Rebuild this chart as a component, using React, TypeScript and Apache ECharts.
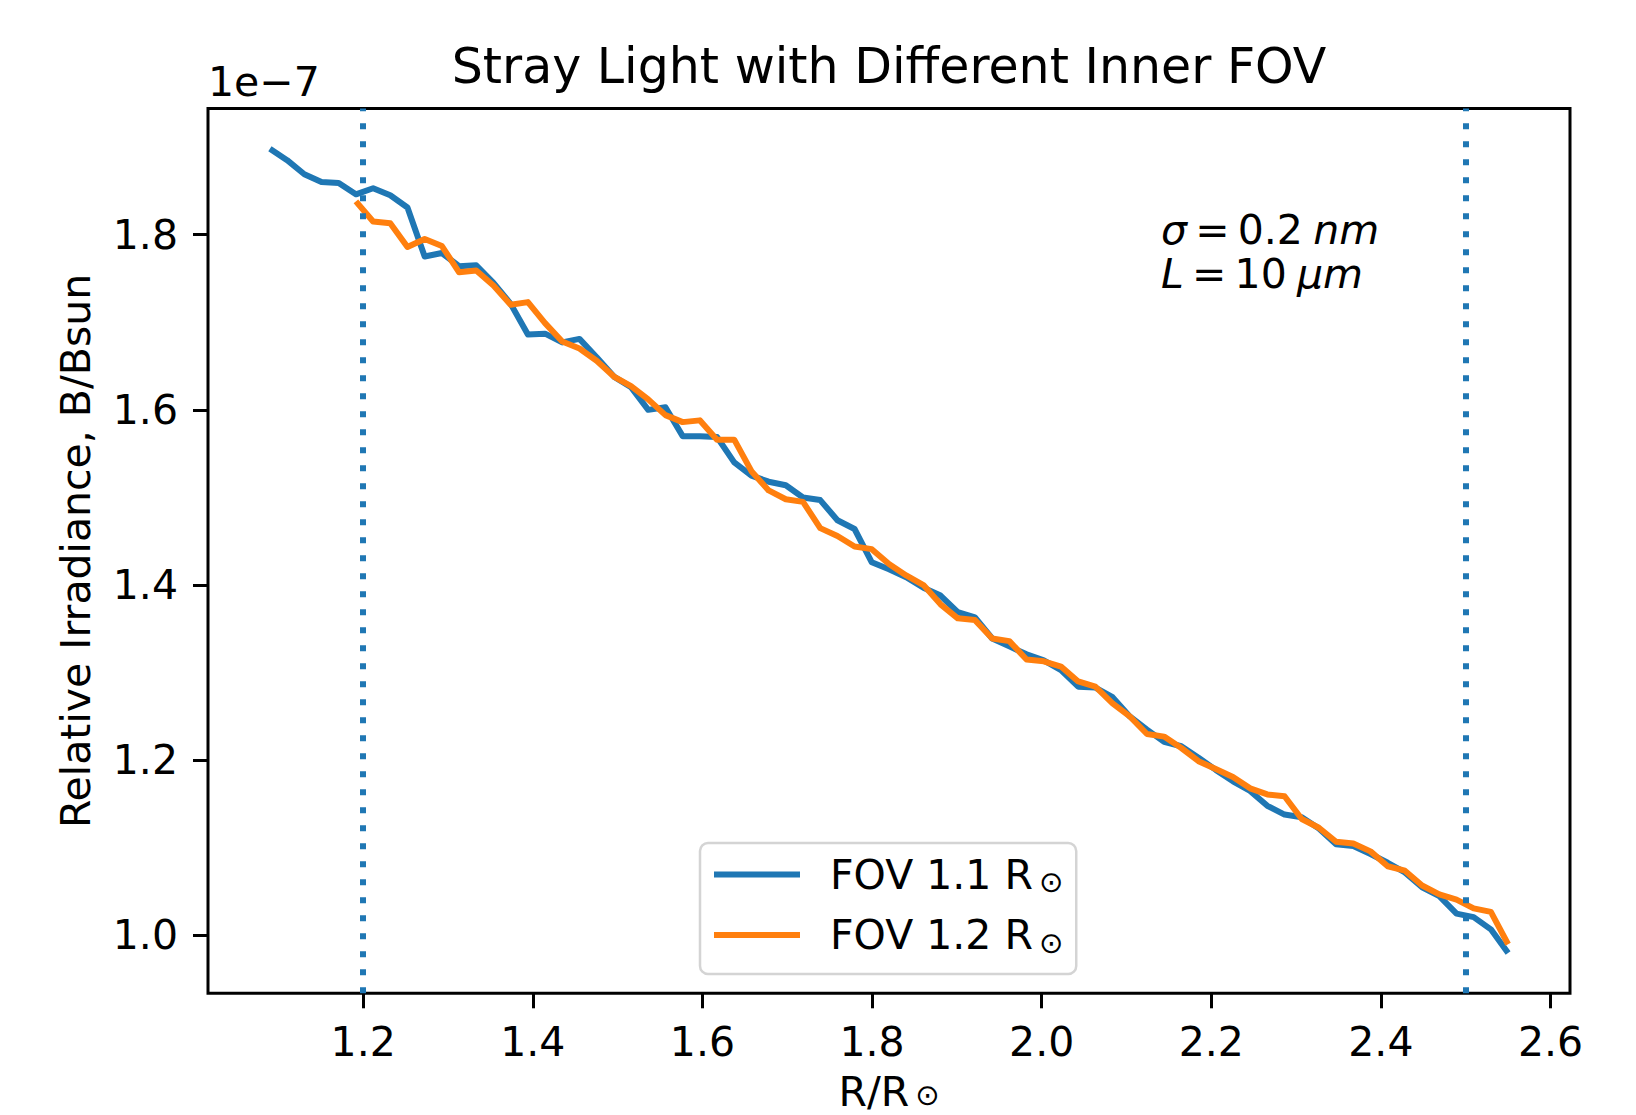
import React, { useEffect, useRef } from "react";
import * as echarts from "echarts";

// R/R_sun sample positions
const xValues = [
  1.09, 1.1103, 1.1306, 1.1508, 1.1711, 1.1914, 1.2117, 1.2319, 1.2522, 1.2725,
  1.2928, 1.3131, 1.3333, 1.3536, 1.3739, 1.3942, 1.4144, 1.4347, 1.455, 1.4753,
  1.4956, 1.5158, 1.5361, 1.5564, 1.5767, 1.5969, 1.6172, 1.6375, 1.6578, 1.6781,
  1.6983, 1.7186, 1.7389, 1.7592, 1.7794, 1.7997, 1.82, 1.8403, 1.8606, 1.8808,
  1.9011, 1.9214, 1.9417, 1.9619, 1.9822, 2.0025, 2.0228, 2.0431, 2.0633, 2.0836,
  2.1039, 2.1242, 2.1444, 2.1647, 2.185, 2.2053, 2.2256, 2.2458, 2.2661, 2.2864,
  2.3067, 2.3269, 2.3472, 2.3675, 2.3878, 2.4081, 2.4283, 2.4486, 2.4689, 2.4892,
  2.5094, 2.5297, 2.55,
];

// Relative irradiance (x 1e-7), FOV 1.1 R_sun
const fov11 = [
  1.898, 1.885, 1.869, 1.86, 1.859, 1.846, 1.853, 1.845, 1.831, 1.775,
  1.779, 1.764, 1.765, 1.745, 1.721, 1.686, 1.687, 1.677, 1.681, 1.66,
  1.638, 1.626, 1.6, 1.603, 1.57, 1.57, 1.569, 1.54, 1.525, 1.518,
  1.514, 1.5, 1.497, 1.474, 1.464, 1.426, 1.418, 1.409, 1.397, 1.388,
  1.369, 1.363, 1.339, 1.33, 1.321, 1.314, 1.303, 1.284, 1.283, 1.272,
  1.25, 1.235, 1.221, 1.216, 1.203, 1.189, 1.176, 1.165, 1.148, 1.138,
  1.135, 1.122, 1.104, 1.102, 1.093, 1.083, 1.072, 1.055, 1.045, 1.025,
  1.021, 1.007, 0.98,
];

// Relative irradiance (x 1e-7), FOV 1.2 R_sun (no data inside 1.19)
const fov12 = [
  null, null, null, null, null, 1.838, 1.815, 1.813, 1.786, 1.795,
  1.787, 1.757, 1.759, 1.742, 1.72, 1.723, 1.699, 1.678, 1.67, 1.656,
  1.638, 1.627, 1.612, 1.594, 1.586, 1.588, 1.566, 1.566, 1.53, 1.508,
  1.498, 1.495, 1.465, 1.456, 1.444, 1.441, 1.424, 1.411, 1.4, 1.378,
  1.362, 1.36, 1.339, 1.336, 1.315, 1.313, 1.307, 1.29, 1.284, 1.265,
  1.25, 1.23, 1.227, 1.214, 1.199, 1.19, 1.181, 1.168, 1.161, 1.159,
  1.133, 1.123, 1.107, 1.105, 1.096, 1.079, 1.074, 1.057, 1.047, 1.041,
  1.031, 1.027, 0.99,
];

const xTicks = [1.2, 1.4, 1.6, 1.8, 2.0, 2.2, 2.4, 2.6];
const yTicks = [1.0, 1.2, 1.4, 1.6, 1.8];
const fovBoundaries = [1.2, 2.5];

const FONT = "DejaVu Sans";
const FS = 41;
const BLUE = "#1f77b4";
const ORANGE = "#ff7f0e";

export default function App() {
  const ref = useRef<HTMLDivElement>(null);

  useEffect(() => {
    if (!ref.current) return;
    const chart = echarts.init(ref.current, null, { renderer: "svg" });

    const pairs = (ys: (number | null)[]) =>
      xValues
        .map((x, i) => [x, ys[i]])
        .filter((p) => p[1] !== null && p[1] !== undefined);

    const subRich = {
      a: { fontSize: FS, lineHeight: 44, fontFamily: FONT, color: "#000" },
      s: {
        fontSize: 29,
        lineHeight: 16,
        verticalAlign: "bottom",
        fontFamily: FONT,
        color: "#000",
        padding: [0, 0, 0, 6],
      },
    };

    const nameRich = {
      a: { fontSize: FS, lineHeight: 34, fontFamily: FONT, color: "#000" },
      s: {
        fontSize: 29,
        lineHeight: 12,
        verticalAlign: "bottom",
        fontFamily: FONT,
        color: "#000",
        padding: [0, 0, 0, 6],
      },
    };

    const thin = "\u2009";
    const four = "\u2005";

    const option: any = {
      animation: false,
      backgroundColor: "#ffffff",
      textStyle: { fontFamily: FONT },
      title: {
        text: "Stray Light with Different Inner FOV",
        left: 889,
        textAlign: "center",
        top: 42,
        padding: 0,
        textStyle: {
          fontFamily: FONT,
          fontSize: 49,
          fontWeight: "normal",
          color: "#000",
        },
      },
      grid: {
        left: 208,
        right: 66,
        top: 108.5,
        bottom: 121.7,
        show: true,
        borderColor: "#000",
        borderWidth: 3,
        backgroundColor: "transparent",
        containLabel: false,
        outerBoundsMode: "none",
      },
      legend: {
        orient: "vertical",
        left: 700,
        top: 843,
        padding: [11, 13, 17, 14],
        borderColor: "#d4d4d4",
        borderWidth: 2.5,
        borderRadius: 8,
        backgroundColor: "rgba(255,255,255,0.8)",
        icon: "rect",
        itemWidth: 86,
        itemHeight: 6,
        itemGap: 18,
        formatter: (name: string) =>
          "{a|" + name.replace("R⊙", "R") + "}{s|⊙}",
        textStyle: {
          fontFamily: FONT,
          fontSize: FS,
          color: "#000",
          padding: [0, 0, 0, 25],
          rich: subRich,
        },
        data: ["FOV 1.1 R⊙", "FOV 1.2 R⊙"],
      },
      xAxis: {
        type: "value",
        min: 1.017,
        max: 2.623,
        name: "{a|R/R}{s|⊙}",
        nameLocation: "middle",
        nameGap: 82,
        nameTextStyle: { rich: nameRich },
        axisLine: { show: false },
        splitLine: { show: false },
        axisTick: {
          show: true,
          inside: false,
          length: 15,
          lineStyle: { color: "#000", width: 3 },
          customValues: xTicks,
        },
        axisLabel: {
          show: true,
          margin: 28,
          fontFamily: FONT,
          fontSize: FS,
          color: "#000",
          customValues: xTicks,
          formatter: (v: number) => v.toFixed(1),
        },
      },
      yAxis: {
        type: "value",
        min: 0.934,
        max: 1.944,
        name: "Relative Irradiance, B/Bsun",
        nameLocation: "middle",
        nameGap: 112,
        nameRotate: 90,
        nameTextStyle: { fontFamily: FONT, fontSize: FS, color: "#000" },
        axisLine: { show: false },
        splitLine: { show: false },
        axisTick: {
          show: true,
          inside: false,
          length: 15,
          lineStyle: { color: "#000", width: 3 },
          customValues: yTicks,
        },
        axisLabel: {
          show: true,
          margin: 30,
          fontFamily: FONT,
          fontSize: FS,
          color: "#000",
          customValues: yTicks,
          formatter: (v: number) => v.toFixed(1),
        },
      },
      graphic: [
        {
          type: "text",
          left: 208,
          top: 61,
          style: {
            text: "1e\u22127",
            font: `${FS}px "${FONT}"`,
            fill: "#000",
          },
        },
        {
          type: "text",
          left: 1161,
          top: 209,
          style: {
            text:
              "{i|σ}{n|" + thin + "=" + thin + "0.2" + four + "}{i|nm}\n" +
              "{i|L}{n|" + thin + "=" + thin + "10" + four + "}{i|μm}",
            fill: "#000",
            rich: {
              i: {
                fontFamily: FONT,
                fontSize: FS,
                fontStyle: "italic",
                lineHeight: 44,
                fill: "#000",
              },
              n: {
                fontFamily: FONT,
                fontSize: FS,
                lineHeight: 44,
                fill: "#000",
              },
            },
          },
        },
      ],
      series: [
        {
          type: "line",
          name: "FOV 1.1 R⊙",
          data: pairs(fov11),
          symbol: "none",
          showSymbol: false,
          color: BLUE,
          lineStyle: { color: BLUE, width: 6, join: "round", cap: "butt" },
          z: 3,
          markLine: {
            silent: true,
            symbol: "none",
            label: { show: false },
            lineStyle: { color: BLUE, width: 6, type: [6, 12], cap: "butt" },
            data: fovBoundaries.map((v) => ({ xAxis: v })),
          },
        },
        {
          type: "line",
          name: "FOV 1.2 R⊙",
          data: pairs(fov12),
          symbol: "none",
          showSymbol: false,
          color: ORANGE,
          lineStyle: { color: ORANGE, width: 6, join: "round", cap: "butt" },
          z: 4,
        },
      ],
    };

    chart.setOption(option);
    return () => chart.dispose();
  }, []);

  return (
    <div
      ref={ref}
      style={{
        position: "fixed",
        left: 0,
        top: 0,
        width: 1636,
        height: 1115,
        background: "#fff",
      }}
    />
  );
}
